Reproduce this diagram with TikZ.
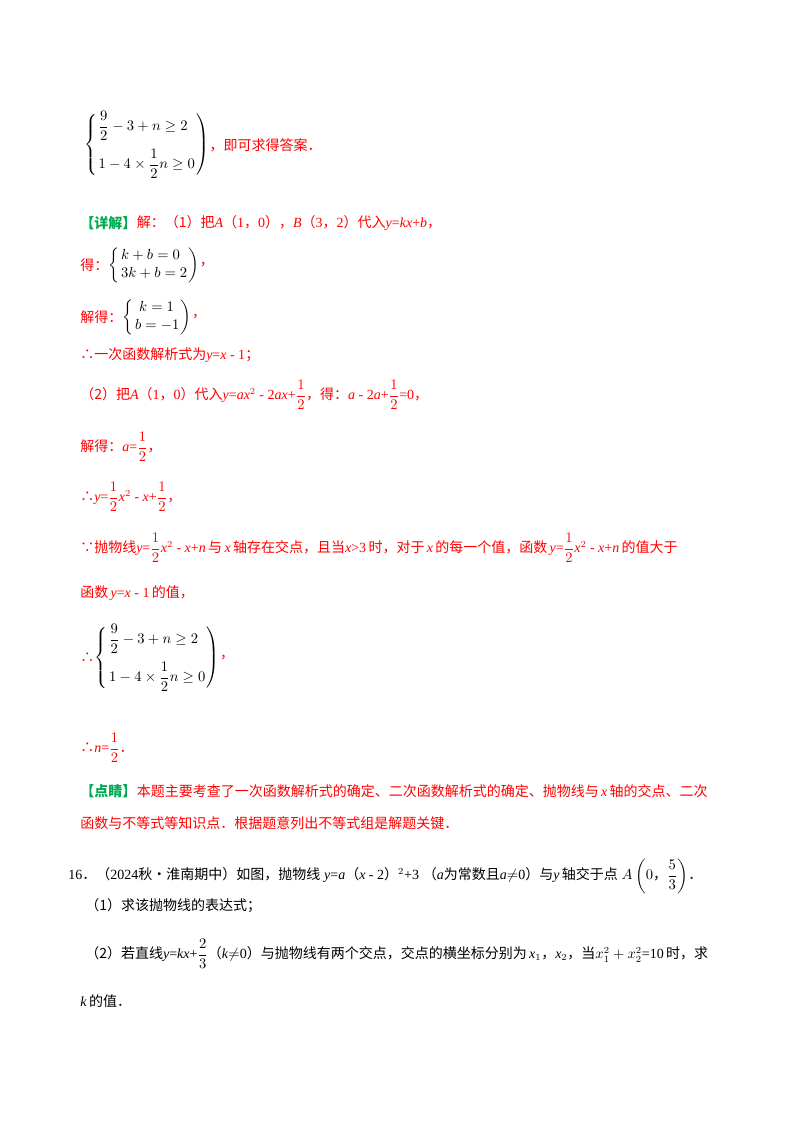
\documentclass[tikz,border=0pt]{standalone}
\usepackage{fontspec}
\usepackage{amsmath}
\setmainfont{Liberation Serif}
\newfontfamily\cjk{Noto Sans CJK SC}
\definecolor{ansred}{RGB}{255,0,0}
\definecolor{tipgreen}{RGB}{0,170,80}
\newcommand{\zh}[1]{{\cjk #1}}
\newcommand{\hf}{\dfrac{1}{2}}
\setlength{\arraycolsep}{1pt}
\begin{document}
\begin{tikzpicture}[x=0.75pt,y=-0.75pt,
  every node/.style={anchor=west,inner sep=0pt,font=\fontsize{10.5}{13}\selectfont},
  ans/.style={text=ansred},
  tip/.style={text=tipgreen,font=\fontsize{10.5}{13}\selectfont\bfseries}]
\useasboundingbox (0,0) rectangle (800,1132);
% hint part
\node (sysa) at (84,145) {$\left\{\begin{array}{l}\dfrac{9}{2}-3+n\geq 2\\[10pt] 1-4\times\dfrac{1}{2}n\geq 0\end{array}\right)$};
\node[ans] (hint) at (sysa.east) {\zh{，即可求得答案．}};
% detailed solution
\node[tip] (xj) at (80,223) {\zh{【详解】}};
\node[ans] (l1) at (xj.east) {\zh{解：（1）把}\textit{A}\zh{（}1\zh{，}0\zh{），}\textit{B}\zh{（}3\zh{，}2\zh{）代入}\textit{y}=\textit{kx}+\textit{b}\zh{，}};
\node[ans] (de) at (80,265) {\zh{得：}};
\node (sysb) at (de.east) {$\left\{\begin{array}{l}k+b=0\\ 3k+b=2\end{array}\right)$};
\node[ans] at (sysb.east) {\zh{，}};
\node[ans] (jd) at (80,317) {\zh{解得：}};
\node (sysc) at (jd.east) {$\left\{\begin{array}{l}\;k=1\\ b=-1\end{array}\right)$};
\node[ans] at (sysc.east) {\zh{，}};
\node[ans] (l2) at (80,355) {\zh{∴一次函数解析式为}\textit{y}=\textit{x} - 1\zh{；}};
\node[ans] (l3) at (80,395) {\zh{（2）把}\textit{A}\zh{（}1\zh{，}0\zh{）代入}\textit{y}=\textit{ax}$^2$ - 2\textit{ax}+$\hf$\zh{，得：}\textit{a} - 2\textit{a}+$\hf$=0\zh{，}};
\node[ans] (l4) at (80,447) {\zh{解得：}\textit{a}=$\hf$\zh{，}};
\node[ans] (l5) at (80,497) {\zh{∴}\textit{y}=$\hf$\textit{x}$^2$ - \textit{x}+$\hf$\zh{，}};
\node[ans] (l6) at (80,548) {\zh{∵抛物线}\textit{y}=$\hf$\textit{x}$^2$ - \textit{x}+\textit{n}\,\zh{与}\,\textit{x}\,\zh{轴存在交点，且当}\textit{x}>3\,\zh{时，对于}\,\textit{x}\,\zh{的每一个值，函数}\,\textit{y}=$\hf$\textit{x}$^2$ - \textit{x}+\textit{n}\,\zh{的值大于}};
\node[ans] (l7) at (80,593) {\zh{函数}\,\textit{y}=\textit{x} - 1\,\zh{的值，}};
\node[ans] (so) at (80,658) {\zh{∴}};
\node (sysd) at (so.east) {$\left\{\begin{array}{l}\dfrac{9}{2}-3+n\geq 2\\[10pt] 1-4\times\dfrac{1}{2}n\geq 0\end{array}\right)$};
\node[ans] (sysdc) at (sysd.east) {\zh{，}};
\node[ans] (l8) at (80,748) {\zh{∴}\textit{n}=$\hf$\zh{．}};
% comment
\node[tip] (dj) at (80,791) {\zh{【点睛】}};
\node[ans] (l9) at (dj.east) {\zh{本题主要考查了一次函数解析式的确定、二次函数解析式的确定、抛物线与}\,\textit{x}\,\zh{轴的交点、二次}};
\node[ans] (l10) at (80,823) {\zh{函数与不等式等知识点．根据题意列出不等式组是解题关键．}};
% next question
\node (q) at (68,876) {16\zh{．（}2024\zh{秋•淮南期中）如图，抛物线}\;\textit{y}=\textit{a}\zh{（}\textit{x} - 2\zh{）}$^2$+3\;\zh{（}\textit{a}\zh{为常数且}\textit{a}$\neq$0\zh{）与}\textit{y}\,\zh{轴交于点}\;$A\left(0\text{\zh{，}}\dfrac{5}{3}\right)$\zh{．}};
\node (q1) at (85,906) {\zh{（1）求该抛物线的表达式；}};
\node (q2) at (85,954) {\zh{（2）若直线}\textit{y}=\textit{kx}+$\dfrac{2}{3}$\zh{（}\textit{k}$\neq$0\zh{）与抛物线有两个交点，交点的横坐标分别为}\,\textit{x}$_1$\zh{，}\textit{x}$_2$\zh{，当}$x_1^2+x_2^2$=10\,\zh{时，求}};
\node (q3) at (80,1001) {\textit{k}\,\zh{的值．}};
\end{tikzpicture}
\end{document}
